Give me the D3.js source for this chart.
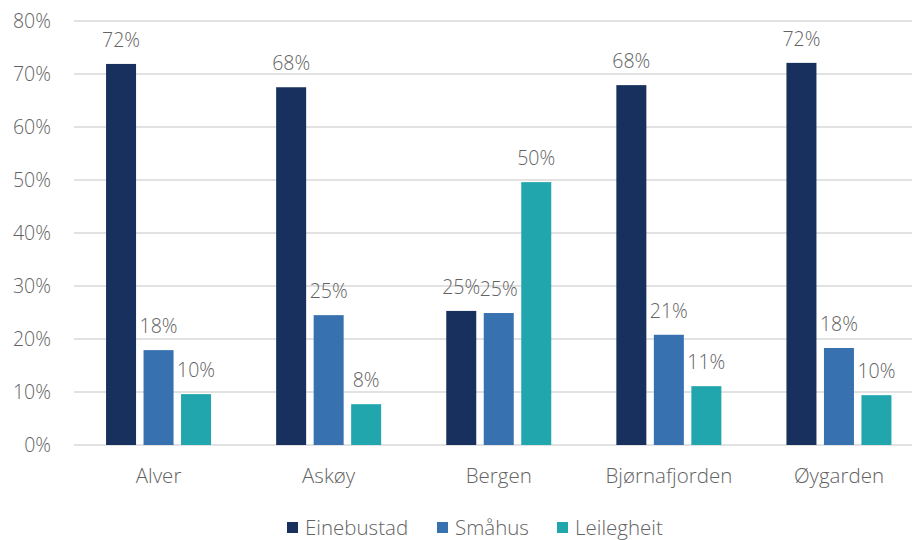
<!DOCTYPE html>
<html><head><meta charset="utf-8">
<script src="https://cdn.jsdelivr.net/npm/d3@7/dist/d3.min.js"></script>
<style>body{margin:0;background:#fff}svg{display:block}</style>
</head><body>
<script>
const categories = ["Alver","Askøy","Bergen","Bjørnafjorden","Øygarden"];
const seriesNames = ["Einebustad","Småhus","Leilegheit"];
const einebustad = [71.9, 67.5, 25.3, 67.9, 72.1];
const smahus = [17.9, 24.5, 24.9, 20.8, 18.3];
const leilegheit = [9.6, 7.7, 49.6, 11.1, 9.4];
const valueLabels = [["72%","68%","25%","68%","72%"],["18%","25%","25%","21%","18%"],["10%","8%","50%","11%","10%"]];
const yTicks = [0,10,20,30,40,50,60,70,80];
const colors = ["#18305d","#3771b0","#21a6ae"];

const series = [einebustad, smahus, leilegheit];
const W = 912, H = 540;
const font = "'Open Sans', 'Liberation Sans', sans-serif";
const txt = "#636363";
const svg = d3.select("body").append("svg").attr("width", W).attr("height", H);

const x = d3.scaleBand().domain(categories).range([73.5, 924]);
const y = d3.scaleLinear().domain([0, 80]).range([445, 21]);

// gridlines
svg.append("g").selectAll("line").data(yTicks).join("line")
  .attr("x1", 74).attr("x2", W).attr("y1", d => y(d)).attr("y2", d => y(d))
  .attr("stroke", "#d9d9d9").attr("stroke-width", 1.3);

// y axis labels
const yAxis = d3.axisLeft(y).tickValues(yTicks).tickFormat(d => d + "%").tickSize(0).tickPadding(0);
const gy = svg.append("g").attr("transform", "translate(51,0)").call(yAxis);
gy.select(".domain").remove();
gy.selectAll("text").attr("font-family", font).attr("font-size", 19.5).attr("font-weight", 300).attr("fill", txt).attr("dy", "0.35em");

// x axis labels
const xAxis = d3.axisBottom(x).tickSize(0).tickPadding(0);
const gx = svg.append("g").attr("transform", "translate(0,483)").call(xAxis);
gx.select(".domain").remove();
gx.selectAll("text").attr("font-family", font).attr("font-size", 20.5).attr("font-weight", 300).attr("fill", txt).attr("dy", 0).attr("y", 0);

const barW = 30, step = 37.5;
series.forEach((vals, si) => {
  const g = svg.append("g");
  g.selectAll("rect").data(vals).join("rect")
    .attr("x", (d, i) => x(categories[i]) + x.bandwidth()/2 - barW/2 + (si - 1) * step)
    .attr("y", d => y(d))
    .attr("width", barW)
    .attr("height", d => y(0) - y(d))
    .attr("fill", colors[si]);
  g.selectAll("text").data(vals).join("text")
    .attr("x", (d, i) => x(categories[i]) + x.bandwidth()/2 + (si - 1) * step)
    .attr("y", d => y(d) - 17)
    .attr("text-anchor", "middle")
    .attr("font-family", font).attr("font-size", 19.5).attr("font-weight", 300).attr("fill", txt)
    .text((d, i) => valueLabels[si][i]);
});

// legend
const legendX = [287, 437, 557];
const lg = svg.append("g");
seriesNames.forEach((n, i) => {
  lg.append("rect").attr("x", legendX[i]).attr("y", 522).attr("width", 11).attr("height", 11).attr("fill", colors[i]);
  lg.append("text").attr("x", legendX[i] + 18).attr("y", 535)
    .attr("font-family", font).attr("font-size", 20.5).attr("font-weight", 300).attr("fill", txt).text(n);
});
</script>
</body></html>
